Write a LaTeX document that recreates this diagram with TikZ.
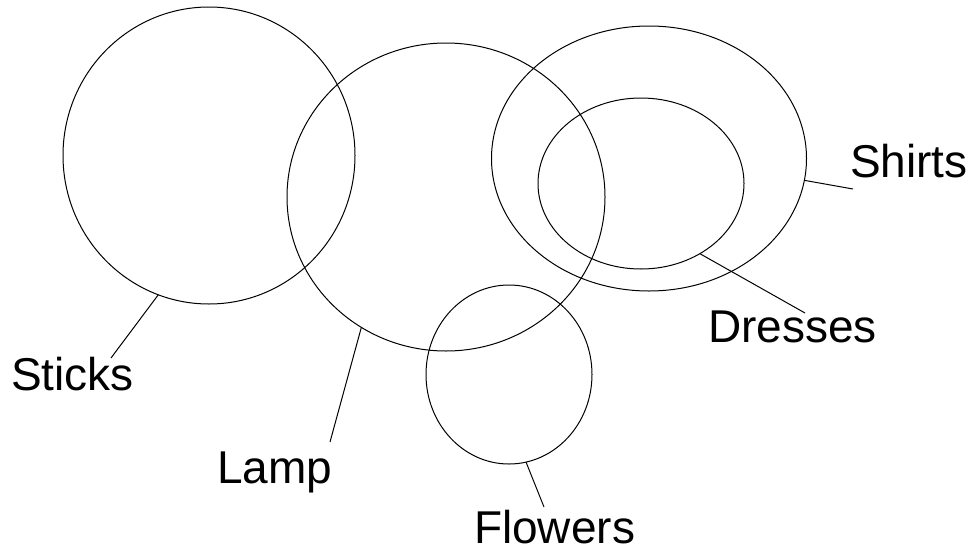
\documentclass[tikz,border=0pt]{standalone}
\usepackage{fontspec}
\setmainfont{Liberation Sans}
\usetikzlibrary{shapes.geometric}
\begin{document}
\begin{tikzpicture}[x=1pt,y=-1pt,
  setshape/.style={ellipse, draw=black, line width=1pt, inner sep=0pt, outer sep=0pt},
  lbl/.style={inner sep=0pt, outer sep=0pt, anchor=base west, font=\fontsize{46}{55}\selectfont},
  leader/.style={draw=black, line width=1pt}]
\useasboundingbox (0,0) rectangle (980,552);
% sets
\node[setshape, minimum width=292pt, minimum height=297pt] (sticks) at (209,155.5) {};
\node[setshape, minimum width=318pt, minimum height=308pt] (lamp) at (446,197) {};
\node[setshape, minimum width=315pt, minimum height=265pt] (shirts) at (649,158.5) {};
\node[setshape, minimum width=206pt, minimum height=171pt] (dresses) at (641,183.5) {};
\node[setshape, minimum width=166pt, minimum height=179pt] (flowers) at (509,374.5) {};
% labels
\node[lbl] (tsticks) at (11,390) {Sticks};
\node[lbl] (tlamp) at (217,483) {Lamp};
\node[lbl] (tflowers) at (474,543) {Flowers};
\node[lbl] (tdresses) at (708,342) {Dresses};
\node[lbl] (tshirts) at (850,177) {Shirts};
% leader ends
\coordinate (esticks) at (111,358);
\coordinate (elamp) at (330,442);
\coordinate (eflowers) at (544,507);
\coordinate (edresses) at (805,313);
\coordinate (eshirts) at (853,189);
% leaders
\draw[leader] (sticks.-110.4) -- (esticks);
\draw[leader] (lamp.-123.5) -- (elamp);
\draw[leader] (flowers.-79.7) -- (eflowers);
\draw[leader] (dresses.-50.1) -- (edresses);
\draw[leader] (shirts.-8.1) -- (eshirts);
\end{tikzpicture}
\end{document}
